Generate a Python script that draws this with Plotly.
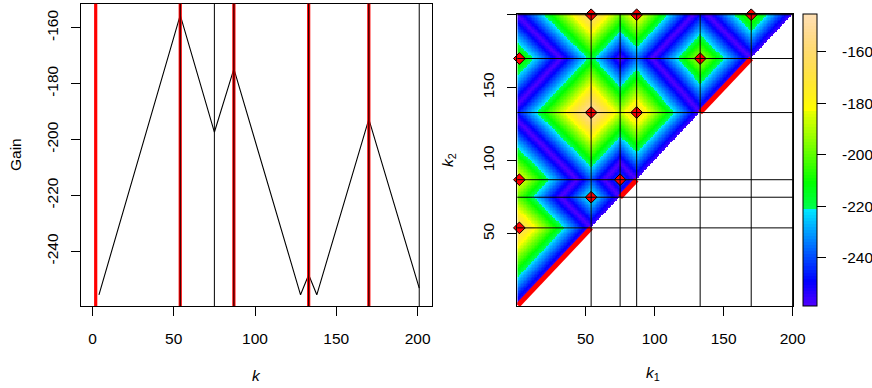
import colorsys
import numpy as np
import plotly.graph_objects as go

W, H = 872, 388

# ---------------- data ----------------
# left panel: gain curve vertices
gain_k = [4, 54, 75, 87, 128, 133, 138, 170, 201]
gain_val = [-255.6, -155.5, -197.4, -174.7, -255.6, -248.4, -255.6, -192.7, -253.2]
red_k = [2, 54, 87, 133, 170]            # thick red verticals
black_k = [54, 75, 87, 133, 170, 201]     # thin black verticals

# right panel: underlying +/-1 step signal (segment ends and levels); the
# two-changepoint gain surface is the scaled |CUSUM| of the segment (k1, k2]
seg_end = [54, 75, 87, 133, 170, 200]
seg_level = [1, -1, 1, -1, 1, -1]
gain_scale = 1.976
z_lim = [-258.8, -145.4]

grid_k = [54, 75, 87, 133, 170, 200]
diag_from = [1, 75, 133]
diag_to = [54, 87, 170]
pt_k1 = [2, 2, 2, 54, 54, 54, 75, 87, 87, 133, 170]
pt_k2 = [54, 87, 170, 75, 133, 200, 87, 133, 200, 170, 200]

x_ticks_left = [0, 50, 100, 150, 200]
y_ticks_left = [-240, -220, -200, -180, -160]
ticks_right = [50, 100, 150, 200]
cbar_ticks = [-240, -220, -200, -180, -160]

# ---------------- surface ----------------
n = seg_end[-1]
sig = np.zeros(n)
start = 0
for e, lv in zip(seg_end, seg_level):
    sig[start:e] = lv
    start = e
S = np.concatenate([[0.0], np.cumsum(sig)])
cus = S - np.arange(n + 1) * S[-1] / n
kk = np.arange(1, n + 1)
K1, K2 = np.meshgrid(kk, kk)  # rows: k2, cols: k1
Z = z_lim[0] + gain_scale * np.abs(cus[K2] - cus[K1])
Z[K2 <= K1] = np.nan


# ---------------- topo.colors palette ----------------
def topo(nc):
    j = nc // 3
    k = nc // 3
    i = nc - j - k
    cols = []
    for h in np.linspace(43 / 60, 31 / 60, i):
        cols.append(colorsys.hsv_to_rgb(h, 1, 1))
    for h in np.linspace(23 / 60, 11 / 60, j):
        cols.append(colorsys.hsv_to_rgb(h, 1, 1))
    for h, s in zip(np.linspace(10 / 60, 6 / 60, k), np.linspace(1, 0.3, k)):
        cols.append(colorsys.hsv_to_rgb(h, s, 1))
    return ["rgb(%d,%d,%d)" % tuple(int(round(c * 255)) for c in col) for col in cols]


NC = 96
pal = topo(NC)
cscale = []
for m, c in enumerate(pal):
    cscale.append([m / NC, c])
    cscale.append([(m + 1) / NC, c])

FONT = "Liberation Sans, Arial, sans-serif"
FS = 15.5
NB = "\u00a0"

fig = go.Figure()

# left panel lines
for k in red_k:
    fig.add_shape(type="line", xref="x", yref="y domain", x0=k, x1=k, y0=0, y1=1,
                  line=dict(color="red", width=3.2))
for k in black_k:
    fig.add_shape(type="line", xref="x", yref="y domain", x0=k, x1=k, y0=0, y1=1,
                  line=dict(color="black", width=1))
fig.add_trace(go.Scatter(x=gain_k, y=gain_val, mode="lines",
                         line=dict(color="black", width=1.1), showlegend=False,
                         xaxis="x", yaxis="y"))

# right panel heatmap
fig.add_trace(go.Heatmap(
    x=kk, y=kk, z=Z, colorscale=cscale, zmin=z_lim[0], zmax=z_lim[1],
    xaxis="x2", yaxis="y2", hoverongaps=False,
    colorbar=dict(x=802.7 / W, xanchor="left", y=1 - 160 / H, yanchor="middle",
                  len=292 / H, lenmode="fraction", thickness=14, thicknessmode="pixels",
                  xpad=0, ypad=0, outlinewidth=1, outlinecolor="black",
                  ticks="outside", ticklen=9, tickcolor="black",
                  tickvals=cbar_ticks, ticktext=[NB * 3 + str(v) for v in cbar_ticks],
                  tickfont=dict(family=FONT, size=FS, color="black")),
))
for k in grid_k:
    fig.add_shape(type="line", xref="x2", yref="y2 domain", x0=k, x1=k, y0=0, y1=1,
                  line=dict(color="black", width=1))
    fig.add_shape(type="line", xref="x2 domain", yref="y2", x0=0, x1=1, y0=k, y1=k,
                  line=dict(color="black", width=1))
for a, b in zip(diag_from, diag_to):
    fig.add_trace(go.Scatter(x=[a, b], y=[a, b], mode="lines",
                             line=dict(color="red", width=5), showlegend=False,
                             xaxis="x2", yaxis="y2"))
fig.add_trace(go.Scatter(x=pt_k1, y=pt_k2, mode="markers",
                         marker=dict(symbol="diamond", size=9, color="red",
                                     line=dict(color="black", width=1)),
                         showlegend=False, xaxis="x2", yaxis="y2", cliponaxis=False))

ax_common = dict(showline=True, mirror=True, linecolor="black", linewidth=1,
                 ticks="outside", ticklen=9, tickcolor="black", tickwidth=1,
                 showgrid=False, zeroline=False, automargin=False,
                 tickfont=dict(family=FONT, size=FS, color="black"))

fig.update_layout(
    width=W, height=H, margin=dict(l=0, r=0, t=0, b=0, autoexpand=False),
    paper_bgcolor="white", plot_bgcolor="white", showlegend=False,
    xaxis=dict(domain=[81 / W, 432.3 / W], range=[-7.04, 209.04],
               tickvals=x_ticks_left, ticktext=[str(v) for v in x_ticks_left],
               ticklabelstandoff=9, anchor="y", **ax_common),
    yaxis=dict(domain=[(H - 306) / H, (H - 3.7) / H], range=[-259.6, -151.4],
               tickvals=y_ticks_left, ticktext=[str(v) for v in y_ticks_left],
               tickangle=-90, ticklabelstandoff=7, anchor="x", **ax_common),
    xaxis2=dict(domain=[517.3 / W, 793.3 / W], range=[0.5, 200.5],
                tickvals=ticks_right, ticktext=[str(v) for v in ticks_right],
                ticklabelstandoff=9, anchor="y2", **ax_common),
    yaxis2=dict(domain=[(H - 306) / H, (H - 14) / H], range=[0.5, 200.5],
                tickvals=ticks_right, ticktext=[str(v) for v in ticks_right],
                tickangle=-90, ticklabelstandoff=7, anchor="x2", **ax_common),
    font=dict(family=FONT, size=FS, color="black"),
)

ann = dict(showarrow=False, xref="paper", yref="paper", xanchor="center", yanchor="middle",
           font=dict(family=FONT, size=FS, color="black"))
fig.add_annotation(x=15 / W, y=1 - 155 / H, text="Gain", textangle=-90, **ann)
fig.add_annotation(x=256.7 / W, y=1 - 375 / H, text="<i>k</i>", **ann)
fig.add_annotation(x=653 / W, y=1 - 373 / H, text="<i>k</i><sub>1</sub>", **ann)
fig.add_annotation(x=448 / W, y=1 - 160 / H, text="<i>k</i><sub>2</sub>", textangle=-90, **ann)

fig.write_html("out.html", config={"displayModeBar": False},
               post_script="document.body.style.margin='0px';")
